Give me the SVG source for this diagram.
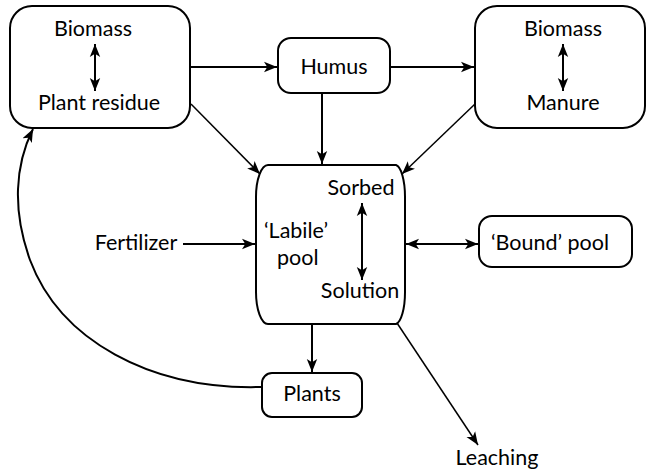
<svg xmlns="http://www.w3.org/2000/svg" width="651" height="472" viewBox="0 0 651 472">
<style>
.box{fill:#fff;stroke:#000;stroke-width:2}
.t{font-family:Lato,"Liberation Sans",sans-serif;font-size:21.5px;fill:#000}
.c{stroke:#000;stroke-width:2;fill:none}
.d{stroke:#000;stroke-width:1.5;fill:none}
</style>
<defs>
<marker id="ah" viewBox="0 0 10 10" refX="10" refY="5" markerWidth="13" markerHeight="13" markerUnits="userSpaceOnUse" orient="auto-start-reverse">
<path d="M0,1 L10,5 L0,9 L2.5,5 Z" fill="#000"/>
</marker>
</defs>
<rect width="651" height="472" fill="#fff"/>
<g id="residue">
<rect class="box" x="10" y="6" width="180" height="122" rx="22"/>
<text class="t" x="93" y="36" text-anchor="middle">Biomass</text>
<text class="t" x="99" y="110" text-anchor="middle">Plant residue</text>
<line class="c" x1="95" y1="44" x2="95" y2="91" marker-start="url(#ah)" marker-end="url(#ah)"/>
</g>
<g id="humus">
<rect class="box" x="278" y="38" width="112" height="55" rx="13"/>
<text class="t" x="334" y="74" text-anchor="middle">Humus</text>
</g>
<g id="manure">
<rect class="box" x="475" y="6" width="170" height="122" rx="22"/>
<text class="t" x="563" y="36" text-anchor="middle">Biomass</text>
<text class="t" x="563" y="110" text-anchor="middle">Manure</text>
<line class="c" x1="563" y1="44" x2="563" y2="91" marker-start="url(#ah)" marker-end="url(#ah)"/>
</g>
<g id="labile">
<path class="box" d="M268,165 L396,165 A10,32 0 0 1 405,197 L405,292 A10,32 0 0 1 396,324 L268,324 A12,32 0 0 1 256,292 L256,197 A12,32 0 0 1 268,165 Z"/>
<text class="t" x="361" y="195" text-anchor="middle">Sorbed</text>
<text class="t" x="264" y="238">‘Labile’</text>
<text class="t" x="277" y="265">pool</text>
<text class="t" x="360" y="298" text-anchor="middle">Solution</text>
<line class="c" x1="362" y1="203" x2="362" y2="280" marker-start="url(#ah)" marker-end="url(#ah)"/>
</g>
<g id="fertilizer">
<text class="t" x="136" y="250" text-anchor="middle">Fertilizer</text>
</g>
<g id="bound">
<rect class="box" x="479" y="216" width="153" height="51" rx="13"/>
<text class="t" x="550" y="250" text-anchor="middle">‘Bound’ pool</text>
</g>
<g id="plants">
<rect class="box" x="262" y="373" width="100" height="44" rx="10"/>
<text class="t" x="312" y="401" text-anchor="middle">Plants</text>
</g>
<g id="leaching">
<text class="t" x="497" y="465" text-anchor="middle">Leaching</text>
</g>
<g id="connectors">
<line class="c" x1="191" y1="67" x2="277" y2="67" marker-end="url(#ah)"/>
<line class="c" x1="391" y1="67" x2="474" y2="67" marker-end="url(#ah)"/>
<line class="d" x1="191" y1="104" x2="260" y2="174" marker-end="url(#ah)"/>
<line class="c" x1="322" y1="94" x2="322" y2="164" marker-end="url(#ah)"/>
<line class="d" x1="475" y1="104" x2="402" y2="174" marker-end="url(#ah)"/>
<line class="c" x1="183" y1="244" x2="255" y2="244" marker-end="url(#ah)"/>
<line class="c" x1="406" y1="244" x2="478" y2="244" marker-start="url(#ah)" marker-end="url(#ah)"/>
<line class="c" x1="312" y1="325" x2="312" y2="372" marker-end="url(#ah)"/>
<line class="d" x1="397" y1="323" x2="478" y2="445" marker-end="url(#ah)"/>
<path class="c" d="M261,387 C150,390 60,340 30,260 C12,210 15,165 33,129" marker-end="url(#ah)"/>
</g>
</svg>
